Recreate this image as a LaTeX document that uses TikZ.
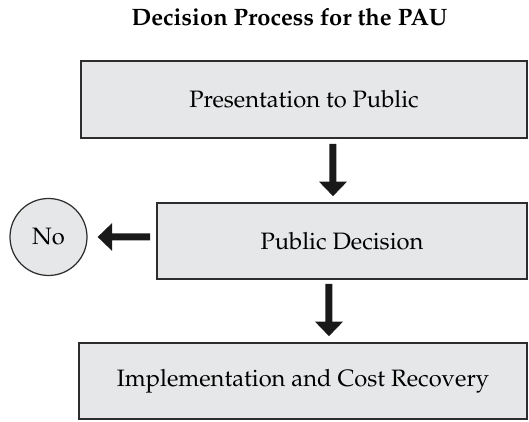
\documentclass[tikz,border=0pt]{standalone}
\usepackage{amsmath}
\usepackage[T1]{fontenc}
\usepackage{mathpazo}
\usepackage{tikz}
\usetikzlibrary{positioning,arrows.meta}
\definecolor{boxgray}{RGB}{230,231,232}
\definecolor{linegray}{RGB}{45,45,45}
\tikzset{
  stepbox/.style={draw=linegray,line width=0.9pt,fill=boxgray,minimum width=8.92cm,minimum height=1.54cm,font=\fontsize{13.5}{16}\selectfont},
  answer/.style={circle,draw=linegray,line width=0.7pt,fill=boxgray,minimum size=1.54cm,font=\fontsize{13.5}{16}\selectfont},
  fatarrow/.style={line width=0.14cm,color=black!90,-{Triangle[length=0.29cm,width=0.54cm]}}
}

\begin{document}
\begin{tikzpicture}
  \useasboundingbox (0,0) rectangle (10.58,8.44);
  % texts
  \node[anchor=base,font=\fontsize{13.5}{16}\selectfont\bfseries] at(5.79,7.92)(title){Decision Process for the PAU};
  % boxes
  \node[stepbox] at(6.08,6.45)(pres){Presentation to Public};
  \node[stepbox,minimum width=7.4cm,minimum height=1.52cm] at(6.84,3.62)(dec){Public Decision};
  \node[stepbox,minimum width=8.96cm,minimum height=1.52cm] at(6.06,0.82)(impl){Implementation and Cost Recovery};
  \node[answer] at(0.97,3.70)(no){No};
  % arrows
  \draw[fatarrow,shorten <=1mm,shorten >=1.2mm] ([xshift=5.8mm]pres.south) -- ([xshift=-1.8mm]dec.north);
  \draw[fatarrow,shorten <=0.8mm,shorten >=1.2mm] ([xshift=-2.6mm]dec.south) -- ([xshift=5.2mm]impl.north);
  \draw[fatarrow,shorten <=1.2mm,shorten >=2mm] ([yshift=0.8mm]dec.west) -- (no.east);
\end{tikzpicture}
\end{document}
